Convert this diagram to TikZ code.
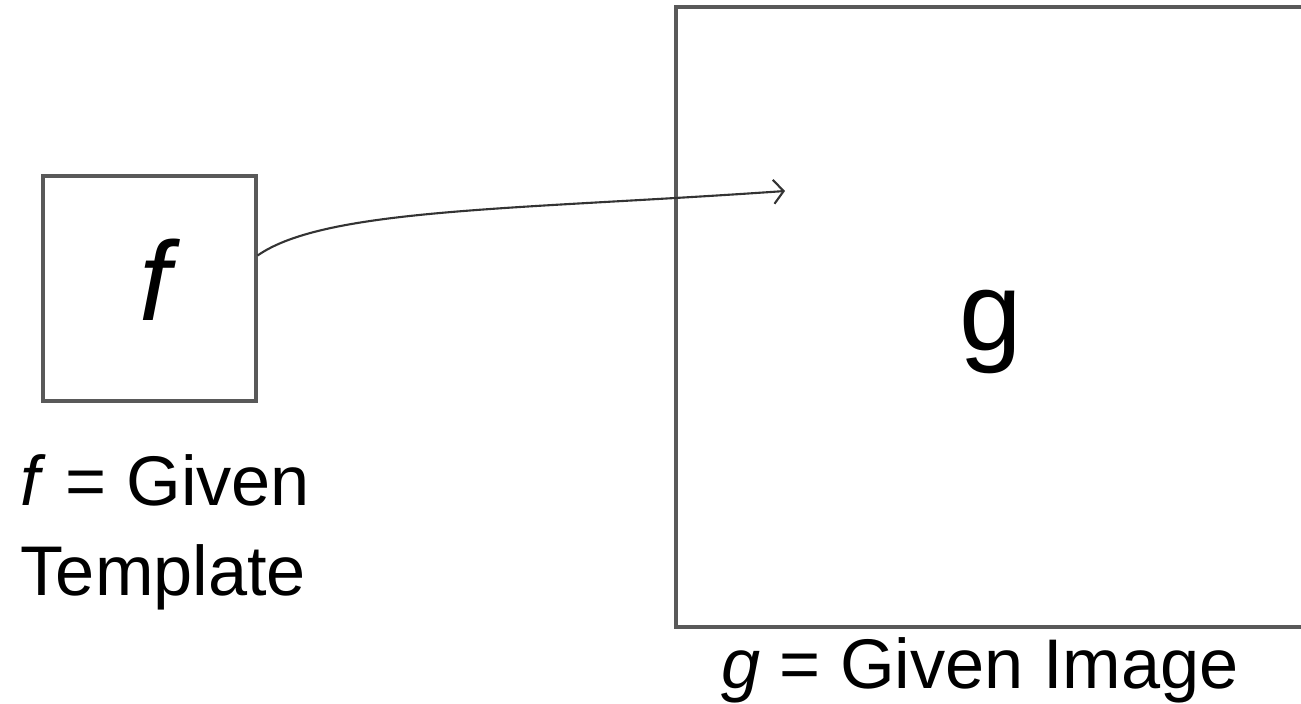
\documentclass[tikz,border=0pt]{standalone}
\usepackage{fontspec}
\setmainfont{Liberation Sans}
\usetikzlibrary{positioning,arrows.meta}
\tikzset{
    tmplbox/.style={draw=black!65, line width=0.9pt, minimum width=2.13cm, minimum height=2.25cm, inner sep=0pt},
    imgbox/.style={draw=black!65, line width=0.9pt, minimum width=6.30cm, minimum height=6.20cm, inner sep=0pt},
    bigsym/.style={font=\fontsize{32}{38}\selectfont, inner sep=0pt},
    caption/.style={font=\fontsize{20}{25.5}\selectfont, inner sep=0pt, align=left},
    matcharrow/.style={draw=black!80, line width=0.6pt, -{Straight Barb[length=1mm, width=2.4mm]}}
}

\begin{document}
\begin{tikzpicture}
    \clip (0,0) rectangle (13.01,7.03);
    \node[tmplbox] (tmpl) at (1.495,4.145) {};
    \node[imgbox] (img) at (9.91,3.86) {};
    \node[bigsym, anchor=base] (fsym) at (1.55,3.83) {\itshape f};
    \node[bigsym, anchor=base] (gsym) at (9.91,3.53) {g};
    \node[caption, anchor=base west] (fcap) at (0.20,1.08) {\textit{f} = Given\\Template};
    \node[caption, anchor=base] (gcap) at (9.80,0.15) {\textit{g} = Given Image};
    \coordinate (hit) at (7.85,5.12);
    \draw[matcharrow] ([yshift=3.3mm]tmpl.east) to[out=35, in=184, out looseness=0.4, in looseness=1.3] (hit);
\end{tikzpicture}
\end{document}
